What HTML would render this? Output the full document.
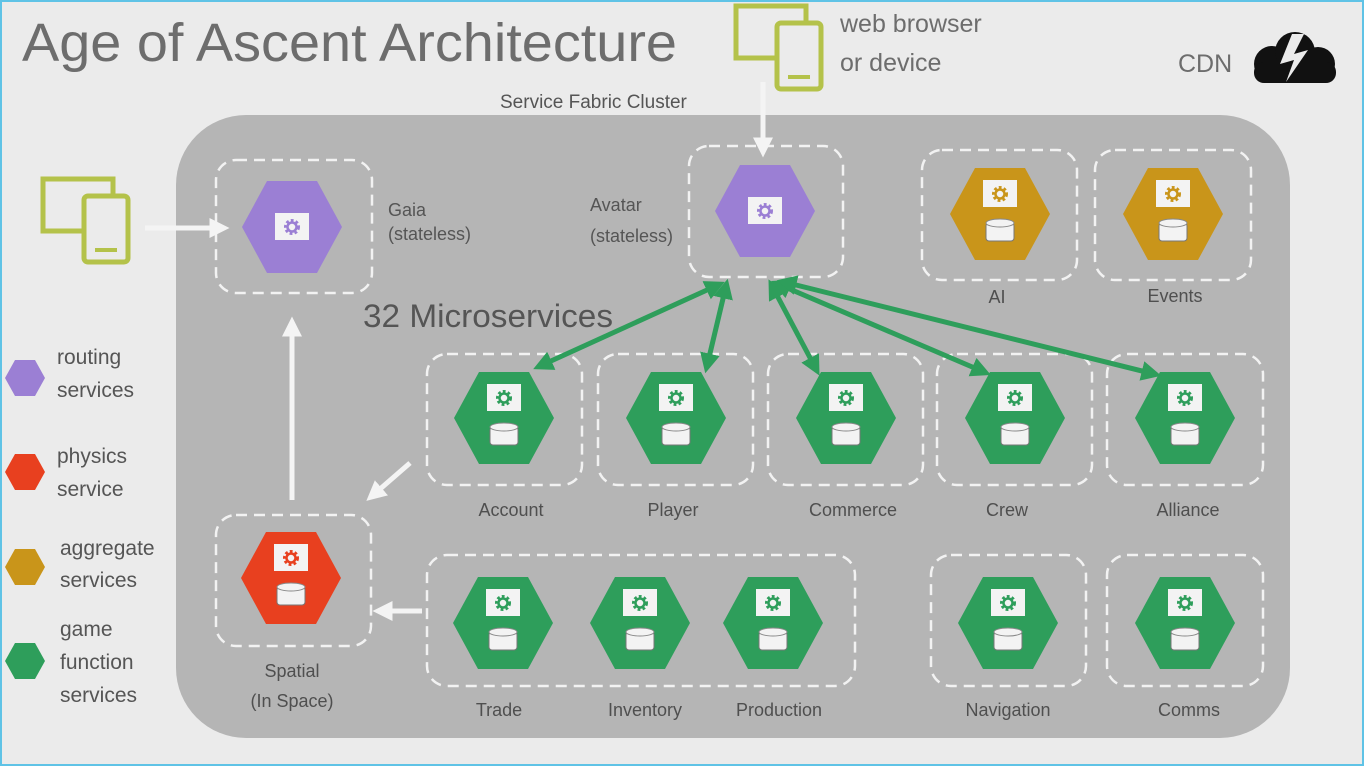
<!DOCTYPE html>
<html><head><meta charset="utf-8"><style>
html,body{margin:0;padding:0;background:#ebebeb;}
svg{display:block;font-family:"Liberation Sans",sans-serif;}
</style></head><body>
<svg id="s" width="1364" height="766" viewBox="0 0 1364 766" xmlns="http://www.w3.org/2000/svg">
<defs>
<marker id="ga" markerWidth="4" markerHeight="4" refX="2.5" refY="2" orient="auto-start-reverse" markerUnits="strokeWidth"><path d="M0,0 L4,2 L0,4 Z" fill="#2e9e5b"/></marker>
<marker id="wa" markerWidth="4" markerHeight="4" refX="2.5" refY="2" orient="auto" markerUnits="strokeWidth"><path d="M0,0 L4,2 L0,4 Z" fill="#f4f4f4"/></marker>
</defs>
<rect x="0" y="0" width="1364" height="766" fill="#ebebeb"/>
<rect x="1" y="1" width="1362" height="764" fill="none" stroke="#5fc3e6" stroke-width="2"/>
<text x="22" y="61" font-size="54" fill="#6d6d6d" textLength="655" lengthAdjust="spacingAndGlyphs">Age of Ascent Architecture</text>
<text x="840" y="32" font-size="25" fill="#6d6d6d">web browser</text>
<text x="840" y="71" font-size="25" fill="#6d6d6d">or device</text>
<text x="1178" y="72" font-size="25" fill="#6d6d6d">CDN</text>
<g fill="#111">
<circle cx="1272" cy="64" r="18"/>
<circle cx="1295" cy="52" r="20"/>
<circle cx="1318" cy="64" r="17"/>
<rect x="1254" y="62" width="82" height="21" rx="10"/>
</g>
<path d="M1292,34 L1280,64 L1294,60 L1286,82 L1308,50 L1294,54 L1304,34 Z" fill="#ebebeb"/>
<text x="500" y="108" font-size="19" fill="#555">Service Fabric Cluster</text>
<rect x="176" y="115" width="1114" height="623" rx="70" fill="#b5b5b5"/>
<g id="dev"></g>
<g id="boxes" fill="none" stroke="#f2f2f2" stroke-width="2.5" stroke-dasharray="11,7"></g>
<g id="nodes"></g>
<g font-size="18" fill="#555">
<text x="388" y="216">Gaia</text><text x="388" y="240">(stateless)</text>
<text x="590" y="211">Avatar</text><text x="590" y="242">(stateless)</text>
</g>
<g font-size="18" fill="#4f4f4f" text-anchor="middle">
<text x="997" y="303">AI</text><text x="1175" y="302">Events</text>
<text x="511" y="516">Account</text><text x="673" y="516">Player</text><text x="853" y="516">Commerce</text><text x="1007" y="516">Crew</text><text x="1188" y="516">Alliance</text>
<text x="292" y="677">Spatial</text><text x="292" y="707">(In Space)</text>
<text x="499" y="716">Trade</text><text x="645" y="716">Inventory</text><text x="779" y="716">Production</text><text x="1008" y="716">Navigation</text><text x="1189" y="716">Comms</text>
</g>
<text x="363" y="327" font-size="32" fill="#555" textLength="250" lengthAdjust="spacingAndGlyphs">32 Microservices</text>
<g stroke="#2e9e5b" stroke-width="5" marker-start="url(#ga)" marker-end="url(#ga)">
<line x1="718" y1="285" x2="540" y2="366"/>
<line x1="726" y1="286" x2="707" y2="366"/>
<line x1="772" y1="286" x2="816" y2="369"/>
<line x1="778" y1="284" x2="984" y2="372"/>
<line x1="784" y1="282" x2="1154" y2="374"/>
</g>
<g stroke="#f4f4f4" stroke-width="5" marker-end="url(#wa)">
<line x1="145" y1="228" x2="222" y2="228"/>
<line x1="292" y1="500" x2="292" y2="324"/>
<line x1="410" y1="463" x2="372" y2="496"/>
<line x1="422" y1="611" x2="380" y2="611"/>
<line x1="763" y1="82" x2="763" y2="150"/>
</g>
<g id="leg"></g>
<g font-size="21" fill="#555">
<text x="57" y="364">routing</text><text x="57" y="397">services</text>
<text x="57" y="463">physics</text><text x="57" y="496">service</text>
<text x="60" y="555">aggregate</text><text x="60" y="587">services</text>
<text x="60" y="636">game</text><text x="60" y="669">function</text><text x="60" y="702">services</text>
</g>
</svg>
<script>
var NS="http://www.w3.org/2000/svg";
function el(p,t,a){var e=document.createElementNS(NS,t);for(var k in a)e.setAttribute(k,a[k]);p.appendChild(e);return e;}
function hex(g,cx,cy,w,h,c){var q=w*0.25;el(g,"polygon",{points:[cx-w/2,cy,cx-q,cy-h/2,cx+q,cy-h/2,cx+w/2,cy,cx+q,cy+h/2,cx-q,cy+h/2].join(" "),fill:c});}
var N=document.getElementById("nodes"),B=document.getElementById("boxes");
var P="#9b7fd4",R="#e8401f",G="#c9951a",Gr="#2e9e5b";
var nodes=[[292,227,P,0],[765,211,P,0],[1000,214,G,1],[1173,214,G,1],[504,418,Gr,1],[676,418,Gr,1],[846,418,Gr,1],[1015,418,Gr,1],[1185,418,Gr,1],[291,578,R,1],[503,623,Gr,1],[640,623,Gr,1],[773,623,Gr,1],[1008,623,Gr,1],[1185,623,Gr,1]];
nodes.forEach(function(n){var cx=n[0],cy=n[1];hex(N,cx,cy,100,92,n[2]);
 var gy=n[3]?cy-20:cy;
 el(N,"rect",{x:cx-17,y:gy-14,width:34,height:27,fill:"#f3f3f3"});
 el(N,"circle",{cx:cx,cy:gy,r:6,fill:"none",stroke:n[2],"stroke-width":4,"stroke-dasharray":"2.5,2"});
 el(N,"circle",{cx:cx,cy:gy,r:4.5,fill:"none",stroke:n[2],"stroke-width":2.5});
 if(n[3]){el(N,"rect",{x:cx-14,y:cy+9,width:28,height:18,rx:3,fill:"#f3f3f3",stroke:"#777","stroke-width":1});
 el(N,"ellipse",{cx:cx,cy:cy+9,rx:14,ry:4,fill:"#f3f3f3",stroke:"#888","stroke-width":1});}
});
[[216,160,156,133],[689,146,154,131],[922,150,155,130],[1095,150,156,130],[427,354,155,131],[598,354,155,131],[768,354,155,131],[937,354,155,131],[1107,354,156,131],[216,515,155,131],[427,555,428,131],[931,555,155,131],[1107,555,156,131]].forEach(function(b){el(B,"rect",{x:b[0],y:b[1],width:b[2],height:b[3],rx:20});});
var L=document.getElementById("leg");
[[25,378,P],[25,472,R],[25,567,G],[25,661,Gr]].forEach(function(l){hex(L,l[0],l[1],40,36,l[2]);});
var D=document.getElementById("dev");
function dev(x,y){var c="#b4c24a";el(D,"rect",{x:x+3,y:y+3,width:70,height:52,fill:"none",stroke:c,"stroke-width":5});
 el(D,"rect",{x:x+44,y:y+20,width:44,height:66,rx:4,fill:"#ebebeb",stroke:c,"stroke-width":5});
 el(D,"line",{x1:x+55,y1:y+74,x2:x+77,y2:y+74,stroke:c,"stroke-width":4});}
dev(733,3);dev(40,176);
</script>
</body></html>
